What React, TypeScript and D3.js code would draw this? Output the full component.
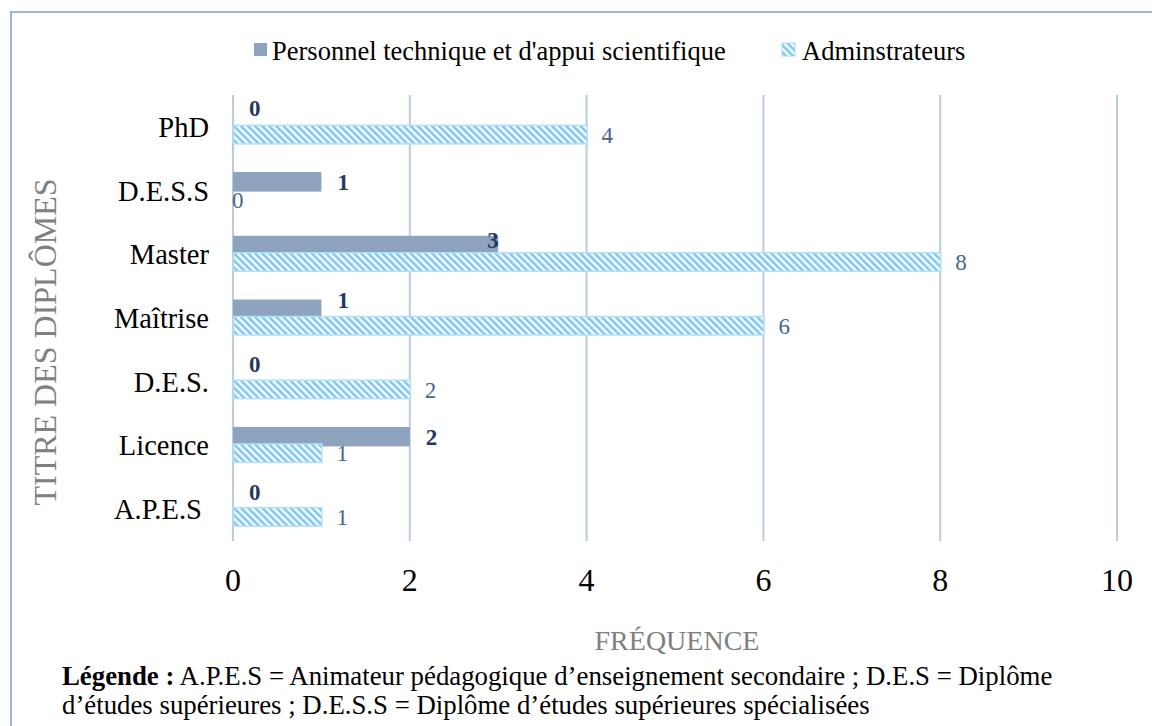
import React from "react";
import * as d3 from "d3";

const categories = ["PhD", "D.E.S.S", "Master", "Maîtrise", "D.E.S.", "Licence", "A.P.E.S"];
const personnel = [0, 1, 3, 1, 0, 2, 0];
const admins = [4, 0, 8, 6, 2, 1, 1];
const xTicks = [0, 2, 4, 6, 8, 10];
const seriesNames = ["Personnel technique et d'appui scientifique", "Adminstrateurs"];

const serif = "'Liberation Serif', 'Times New Roman', serif";

export default function App() {
  const W = 1152, H = 726;
  const x = d3.scaleLinear().domain([0, 10]).range([233, 1117]);
  const y = d3.scaleBand<string>().domain(categories).range([95, 541]).padding(0);
  const barH = 19.5;
  const darkBlue = "#1F3864";
  const lightText = "#44668F";
  // manual label nudges (as in the source chart)
  const labelDy = [-19, -8.6, -14, -18, -18, -8.6, -17];
  const labelDx = [16, 16, -11, 16, 16, 16, 16];
  return (
    <svg width={W} height={H} style={{ position: "absolute", left: 0, top: 0 }}>
      <defs>
        <pattern id="hatch" patternUnits="userSpaceOnUse" width="5" height="5" patternTransform="rotate(-45)">
          <rect width="5" height="5" fill="#ffffff" />
          <rect width="2.6" height="5" fill="#7CC8F2" />
        </pattern>
      </defs>
      <rect x={0} y={0} width={W} height={H} fill="#fff" />
      <path d={`M11,${H} V12 H${W}`} fill="none" stroke="#9DB6DE" strokeWidth={2} />
      {/* legend */}
      <rect x={254} y={43} width={13} height={13} fill="#8EA3BE" />
      <text x={272} y={60} fontFamily={serif} fontSize={26.5} fill="#000">{seriesNames[0]}</text>
      <rect x={782} y={43} width={13} height={13} fill="url(#hatch)" stroke="#A8D8F5" strokeWidth={1} />
      <text x={802} y={60} fontFamily={serif} fontSize={26.5} fill="#000">{seriesNames[1]}</text>
      {/* gridlines */}
      {xTicks.map((t) => (
        <line key={t} x1={x(t)} x2={x(t)} y1={95} y2={541} stroke="#B8CCE8" strokeWidth={2} />
      ))}
      {/* bars */}
      {categories.map((c, i) => {
        const cy = (y(c) as number) + y.bandwidth() / 2;
        return (
          <g key={c}>
            {personnel[i] > 0 && (
              <rect x={x(0)} y={cy - 18.5} width={x(personnel[i]) - x(0)} height={barH} fill="#8EA3BE" />
            )}
            {admins[i] > 0 && (
              <rect x={x(0) + 0.5} y={cy - 1.5} width={x(admins[i]) - x(0)} height={barH - 1} fill="url(#hatch)" stroke="#B5DFF7" strokeWidth={1.5} />
            )}
            <text x={x(personnel[i]) + labelDx[i]} y={cy + labelDy[i] + 8} fontFamily={serif} fontSize={23} fontWeight="bold" fill={darkBlue}>{personnel[i]}</text>
            <text x={x(admins[i]) + (admins[i] > 0 ? 15 : -1)} y={admins[i] > 0 ? cy + 16 : cy + 17} fontFamily={serif} fontSize={23} fill={lightText}>{admins[i]}</text>
            <text x={209} y={cy + 10} textAnchor="end" fontFamily={serif} fontSize={28.5} fill="#000">{c === "A.P.E.S" ? c + "\u00A0" : c}</text>
          </g>
        );
      })}
      {/* x tick labels */}
      {xTicks.map((t) => (
        <text key={t} x={x(t)} y={591} textAnchor="middle" fontFamily={serif} fontSize={32} fill="#000">{t}</text>
      ))}
      {/* axis titles */}
      <text x={677} y={650} textAnchor="middle" fontFamily={serif} fontSize={28} fill="#808080">FRÉQUENCE</text>
      <text transform="translate(56,342) rotate(-90)" textAnchor="middle" fontFamily={serif} fontSize={32} fill="#808080">TITRE DES DIPLÔMES</text>
      {/* footer */}
      <text x={62} y={685} fontFamily={serif} fontSize={26.8} fill="#000">
        <tspan fontWeight="bold">Légende :</tspan>
        <tspan> A.P.E.S = Animateur pédagogique d’enseignement secondaire ; D.E.S = Diplôme</tspan>
      </text>
      <text x={62} y={714} fontFamily={serif} fontSize={26.8} fill="#000">d’études supérieures ; D.E.S.S = Diplôme d’études supérieures spécialisées</text>
    </svg>
  );
}
